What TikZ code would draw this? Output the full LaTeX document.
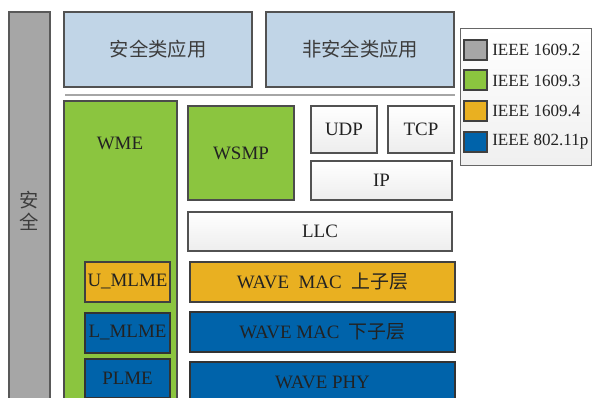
\documentclass[tikz,border=0pt]{standalone}
\usepackage{fontspec}
\setmainfont{Liberation Serif}
\newfontfamily\cjk{Noto Sans CJK SC}
\definecolor{bargray}{RGB}{166,166,166}
\definecolor{appblue}{RGB}{193,213,231}
\definecolor{wgreen}{RGB}{139,197,63}
\definecolor{worange}{RGB}{233,176,33}
\definecolor{wblue}{RGB}{0,99,170}
\definecolor{txt}{RGB}{34,34,34}
\definecolor{cjktxt}{RGB}{60,60,60}
\newcommand\blk[7]{\node[#6, minimum width={(#4-#2)*0.75pt}, minimum height={(#5-#3)*0.75pt}] (#1) at ({(#2+#4)/2},{(#3+#5)/2}) {#7};}
\tikzset{
  base/.style={draw=black!72, line width=0.8pt, inner sep=0pt, outer sep=0pt, text=txt, font=\fontsize{14.2}{16}\selectfont},
  graybox/.style={base, fill=bargray, draw=black!65},
  appbox/.style={base, fill=appblue, draw=black!68},
  greenbox/.style={base, fill=wgreen, draw=black!70},
  orangebox/.style={base, fill=worange, draw=black!75},
  bluebox/.style={base, fill=wblue, draw=black!80},
  whitebox/.style={base, top color=white, bottom color=black!7, draw=black!68},
  legbox/.style={base, top color=white, bottom color=black!6, draw=black!60, line width=0.7pt},
  swatch/.style={base, draw=black!75},
  legtext/.style={anchor=west, inner sep=0pt, text=txt, font=\fontsize{12.8}{15}\selectfont},
  cjkt/.style={text=cjktxt, font=\cjk\fontsize{14.5}{16}\selectfont}
}
\begin{document}
\begin{tikzpicture}[x=0.75pt,y=-0.75pt]
\useasboundingbox (0,0) rectangle (592,398);
\clip (0,0) rectangle (592,398);
% security bar
\blk{sec}{9}{12}{50}{410}{graybox, cjkt, align=center}{安\\全}
% applications
\blk{safeapp}{64}{12}{252}{87}{appbox, cjkt}{安全类应用}
\blk{nonsafeapp}{266}{12}{454}{87}{appbox, cjkt}{非安全类应用}
% separator
\coordinate (sepL) at (65,95);
\coordinate (sepR) at (455,95);
\draw[black!35, line width=1.6pt] (sepL) -- (sepR);
% WME
\blk{wme}{64}{101}{177}{410}{greenbox}{}
\node[base, draw=none, anchor=center] (wmetext) at (120,143) {WME};
\blk{wsmp}{188}{106}{294}{200}{greenbox}{WSMP}
\blk{udp}{311}{106}{377}{153}{whitebox}{UDP}
\blk{tcp}{388}{106}{454}{153}{whitebox}{TCP}
\blk{ip}{311}{161}{452}{200}{whitebox}{IP}
\blk{llc}{188}{212}{452}{251}{whitebox}{LLC}
\blk{umlme}{85}{262}{170}{302}{orangebox}{U\_MLME}
\blk{macup}{190}{262}{455}{302}{orangebox}{WAVE\ \ MAC\ \ {\cjk 上子层}}
\blk{lmlme}{85}{313}{170}{353}{bluebox}{L\_MLME}
\blk{macdown}{190}{312}{455}{352}{bluebox}{WAVE MAC\ \ {\cjk 下子层}}
\blk{plme}{85}{359}{170}{398}{bluebox}{PLME}
\blk{phy}{190}{362}{455}{402}{bluebox}{WAVE PHY}
% legend
\blk{legend}{460}{28}{591}{165}{legbox}{}
\blk{sw1}{464}{40}{487}{60}{swatch, fill=bargray}{}
\blk{sw2}{464}{70}{487}{90}{swatch, fill=wgreen}{}
\blk{sw3}{464}{101}{487}{121}{swatch, fill=worange}{}
\blk{sw4}{464}{132}{487}{152}{swatch, fill=wblue}{}
\node[legtext] (l1) at (492,50) {IEEE 1609.2};
\node[legtext] (l2) at (492,81) {IEEE 1609.3};
\node[legtext] (l3) at (492,111) {IEEE 1609.4};
\node[legtext] (l4) at (492,142) {IEEE 802.11p};
\end{tikzpicture}
\end{document}
